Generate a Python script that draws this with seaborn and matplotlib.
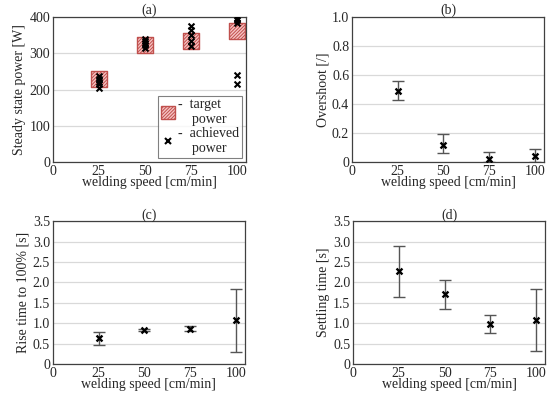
import matplotlib
matplotlib.use("Agg")
import matplotlib.pyplot as plt
from matplotlib.lines import Line2D
from matplotlib.patches import Patch
import seaborn as sns
import pandas as pd

# data
speeds = [25, 50, 75, 100]
target_power = [230, 322, 335, 362]
achieved_speed = [25] * 5 + [50] * 5 + [75] * 5 + [100] * 5
achieved_power = [205, 215, 222, 228, 238,
                  315, 322, 328, 335, 340,
                  320, 335, 350, 365, 375,
                  215, 240, 385, 392, 398]

overshoot = [0.49, 0.12, 0.02, 0.04]
overshoot_lo = [0.43, 0.06, 0.0, 0.0]
overshoot_hi = [0.56, 0.19, 0.07, 0.09]

rise_time = [0.63, 0.83, 0.87, 1.07]
rise_lo = [0.47, 0.80, 0.82, 0.30]
rise_hi = [0.79, 0.86, 0.92, 1.83]

settling_time = [2.27, 1.71, 0.98, 1.07]
settling_lo = [1.63, 1.35, 0.77, 0.31]
settling_hi = [2.90, 2.07, 1.20, 1.84]

sns.set_style("white")
plt.rcParams["font.family"] = ["Liberation Serif", "DejaVu Serif"]
plt.rcParams["font.size"] = 10
plt.rcParams["hatch.linewidth"] = 0.7

FS = 10

fig = plt.figure(figsize=(5.5, 3.97), dpi=100)
ax_a = fig.add_axes([0.096, 0.592, 0.351, 0.365])
ax_b = fig.add_axes([0.640, 0.592, 0.349, 0.365])
ax_c = fig.add_axes([0.096, 0.083, 0.349, 0.360])
ax_d = fig.add_axes([0.642, 0.083, 0.349, 0.360])

box_face = "#f7c4c4"
box_edge = "#c0504d"


def style_axis(ax, title, ylabel, ylim, yticks, ylabels):
    ax.set_xlim(0, 105)
    ax.set_xticks([0, 25, 50, 75, 100])
    ax.set_ylim(*ylim)
    ax.set_yticks(yticks)
    ax.set_yticklabels(ylabels)
    ax.yaxis.grid(True, color="#d9d9d9", linewidth=0.9)
    ax.set_axisbelow(True)
    ax.tick_params(length=0, pad=2, labelsize=FS)
    for s in ax.spines.values():
        s.set_color("#404040")
        s.set_linewidth(0.9)
    ax.set_title(title, fontsize=FS, pad=2)
    ax.set_xlabel("welding speed [cm/min]", fontsize=FS, labelpad=-1)
    ax.set_ylabel(ylabel, fontsize=FS, labelpad=2)


def error_panel(ax, vals, lo, hi):
    df = pd.DataFrame({"speed": speeds, "val": vals})
    yerr = [[v - l for v, l in zip(vals, lo)], [h - v for v, h in zip(vals, hi)]]
    ax.errorbar(speeds, vals, yerr=yerr, fmt="none", ecolor="#555555",
                elinewidth=1.0, capsize=4, capthick=1.0, zorder=2)
    sns.scatterplot(data=df, x="speed", y="val", ax=ax, marker="x", s=18,
                    color="black", linewidth=1.7, zorder=3, legend=False)
    ax.set_xlabel("")
    ax.set_ylabel("")


# (a)
df_target = pd.DataFrame({"speed": speeds, "power": target_power})
df_ach = pd.DataFrame({"speed": achieved_speed, "power": achieved_power})
sns.scatterplot(data=df_target, x="speed", y="power", ax=ax_a, marker="s",
                s=130, color=box_face, edgecolor=box_edge, linewidth=1.0,
                hatch="//////////", zorder=2, legend=False)
sns.scatterplot(data=df_ach, x="speed", y="power", ax=ax_a, marker="x",
                s=18, color="black", linewidth=1.5, zorder=3, legend=False)
style_axis(ax_a, "(a)", "Steady state power [W]", (0, 400),
           [0, 100, 200, 300, 400], ["0", "100", "200", "300", "400"])
handles = [
    Patch(facecolor=box_face, edgecolor=box_edge, hatch="//////////", linewidth=1.0),
    Line2D([], [], marker="x", linestyle="none", markersize=5,
           color="black", markeredgewidth=1.5),
]
leg = ax_a.legend(handles, ["-  target\n    power", "-  achieved\n    power"],
                  loc="lower right", fontsize=FS, frameon=True, fancybox=False,
                  edgecolor="#606060", borderpad=0.2, handletextpad=0.2,
                  labelspacing=0.05, handlelength=1.0, handleheight=1.0,
                  borderaxespad=0.3)
leg.get_frame().set_linewidth(0.8)

# (b)
error_panel(ax_b, overshoot, overshoot_lo, overshoot_hi)
style_axis(ax_b, "(b)", "Overshoot [/]", (0, 1.0),
           [0, 0.2, 0.4, 0.6, 0.8, 1.0], ["0", "0.2", "0.4", "0.6", "0.8", "1.0"])

# (c)
ticks_t = [0, 0.5, 1.0, 1.5, 2.0, 2.5, 3.0, 3.5]
labels_t = ["0", "0.5", "1.0", "1.5", "2.0", "2.5", "3.0", "3.5"]
error_panel(ax_c, rise_time, rise_lo, rise_hi)
style_axis(ax_c, "(c)", "Rise time to 100% [s]", (0, 3.5), ticks_t, labels_t)

# (d)
error_panel(ax_d, settling_time, settling_lo, settling_hi)
style_axis(ax_d, "(d)", "Settling time [s]", (0, 3.5), ticks_t, labels_t)

fig.savefig("out.png", dpi=100)
